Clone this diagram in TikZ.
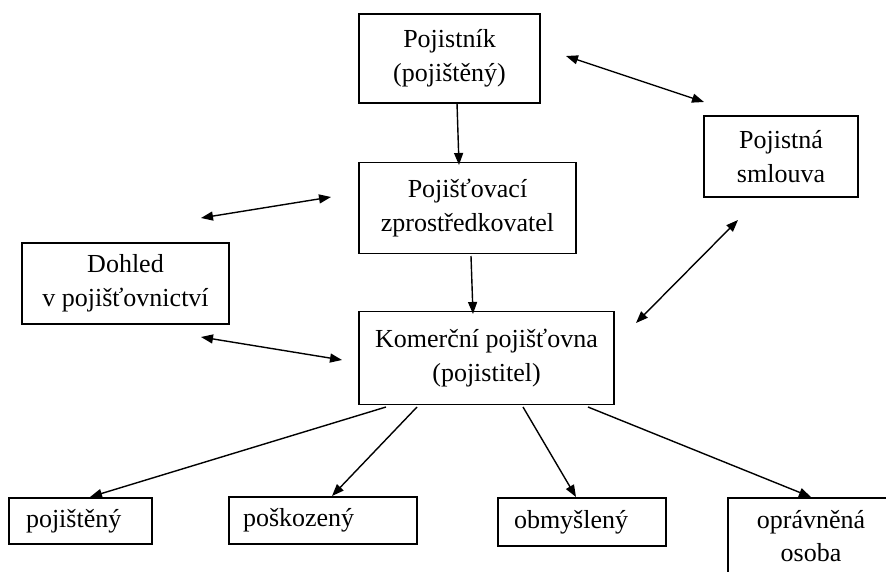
\documentclass[tikz,border=0pt]{standalone}
\usepackage{fontspec}
\setmainfont{Liberation Serif}
\usetikzlibrary{arrows.meta}
\begin{document}
\begin{tikzpicture}[x=1pt,y=-1pt,
  box/.style={draw, line width=1.9pt, inner sep=0pt, align=center, font=\fontsize{26}{34}\selectfont},
  lbox/.style={draw, line width=1.9pt, inner ysep=0pt, align=left, font=\fontsize{26}{34}\selectfont},
  txt/.style={inner sep=0pt, align=center, font=\fontsize{26}{33}\selectfont},
  conn/.style={line width=1.4pt, -{Triangle[length=12pt,width=9pt]}},
  biconn/.style={line width=1.4pt, {Triangle[length=12pt,width=9pt]}-{Triangle[length=12pt,width=9pt]}}]
\useasboundingbox (0,0) rectangle (886,572);
\clip (0,0) rectangle (886,572);
% main boxes
\node[box, minimum width=181pt, minimum height=89pt] (A) at (449.5,58.5) {Pojistník\\(pojištěný)};
\node[box, minimum width=217pt, minimum height=91pt] (B) at (467.5,208) {Pojišťovací\\zprostředkovatel};
\node[box, minimum width=154pt, minimum height=81pt] (C) at (781,156.5) {Pojistná\\smlouva};
\node[box, minimum width=207pt, minimum height=81pt] (D) at (125.5,283.5) {Dohled\\v pojišťovnictví};
\node[box, minimum width=255pt, minimum height=93pt] (E) at (486.5,358) {Komerční pojišťovna\\(pojistitel)};
% bottom boxes
\node[lbox, inner xsep=17pt, text width=109pt, minimum height=46pt] (F) at (80.5,521) {pojištěný};
\node[lbox, inner xsep=14pt, text width=160pt, minimum height=47pt] (G) at (323,520.5) {poškozený};
\node[lbox, inner xsep=16pt, text width=136pt, minimum height=48pt] (H) at (582,522) {obmyšlený};
\node[box, anchor=north west, minimum width=200pt, minimum height=140pt] (I) at (727,497) {};
\node[txt] (It) at (811,536) {oprávněná\\osoba};
% connector end points
\coordinate (a1) at (457,103);  \coordinate (b1) at (459,165);
\coordinate (b2) at (471,256);  \coordinate (e1) at (473,314);
\coordinate (p1) at (566,56);   \coordinate (p2) at (704,102);
\coordinate (s1) at (738,220);  \coordinate (s2) at (636,323);
\coordinate (d1) at (201,218);  \coordinate (d2) at (331,197);
\coordinate (d3) at (201,337);  \coordinate (d4) at (342,360);
\coordinate (k1) at (386,407);  \coordinate (f1) at (90,497);
\coordinate (k2) at (417,407);  \coordinate (g1) at (332,496);
\coordinate (k3) at (523,407);  \coordinate (h1) at (576,497);
\coordinate (k4) at (588,407);  \coordinate (i1) at (811,497);
% connectors
\draw[conn] (a1) -- (b1);
\draw[conn] (b2) -- (e1);
\draw[biconn] (p1) -- (p2);
\draw[biconn] (s1) -- (s2);
\draw[biconn] (d1) -- (d2);
\draw[biconn] (d3) -- (d4);
\draw[conn] (k1) -- (f1);
\draw[conn] (k2) -- (g1);
\draw[conn] (k3) -- (h1);
\draw[conn] (k4) -- (i1);
\end{tikzpicture}
\end{document}
